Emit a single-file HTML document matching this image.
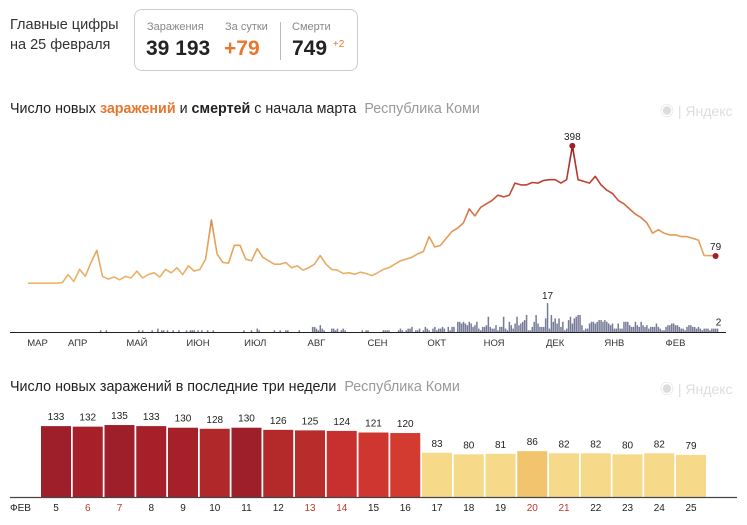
<!DOCTYPE html>
<html><head><meta charset="utf-8"><style>
body{margin:0;background:#fff;font-family:"Liberation Sans","Noto Sans CJK SC",sans-serif;width:747px;height:525px;overflow:hidden;position:relative;color:#222}
.abs{position:absolute}
</style></head><body>
<div class="abs" style="left:10px;top:15px;font-size:14.5px;line-height:20px;color:#333">Главные цифры<br>на 25 февраля</div>
<div class="abs" style="left:134px;top:9px;width:222px;height:60px;border:1px solid #ccc;border-radius:8px">
 <div class="abs" style="left:12px;top:11px;font-size:11px;color:#888">Заражения</div>
 <div class="abs" style="left:11px;top:27px;font-size:21px;font-weight:bold;color:#222">39 193</div>
 <div class="abs" style="left:90px;top:11px;font-size:11px;color:#888">За сутки</div>
 <div class="abs" style="left:89px;top:27px;font-size:21px;font-weight:bold;color:#e8772e">+79</div>
 <div class="abs" style="left:145px;top:12px;width:1px;height:38px;background:#bbb"></div>
 <div class="abs" style="left:157px;top:11px;font-size:11px;color:#888">Смерти</div>
 <div class="abs" style="left:157px;top:27px;font-size:21px;font-weight:bold;color:#222">749 <sup style="font-size:10px;color:#e8772e;font-weight:normal">+2</sup></div>
</div>
<div class="abs" style="left:10px;top:101px;font-size:14.3px;color:#222">Число новых <b style="color:#e8772e">заражений</b> и <b>смертей</b> с начала марта <span style="color:#999">&nbsp;Республика Коми</span></div>
<div class="abs" style="left:660px;top:101px;font-size:14px;color:#ddd">◉ | Яндекс</div>
<div class="abs" style="left:10px;top:379px;font-size:14.3px;color:#222">Число новых заражений в последние три недели <span style="color:#999">&nbsp;Республика Коми</span></div>
<div class="abs" style="left:660px;top:379px;font-size:14px;color:#ddd">◉ | Яндекс</div>
<svg class="abs" style="left:0;top:0" width="747" height="525" id="svg">
<defs><linearGradient id="lg" gradientUnits="userSpaceOnUse" x1="0" y1="283" x2="0" y2="146">
<stop offset="0" stop-color="#ebb56b"/><stop offset="0.38" stop-color="#e39a55"/><stop offset="0.63" stop-color="#c9503a"/><stop offset="1" stop-color="#a01e25"/></linearGradient></defs>
</svg>
<script>
const cases3day=[0,0,0,0,0,0,2,25,5,40,20,60,95,20,12,18,10,20,15,35,15,25,30,18,40,30,45,25,50,35,40,70,183,85,60,58,110,110,70,65,100,75,65,55,55,60,45,50,38,45,55,80,55,40,38,28,30,26,32,28,22,30,40,45,55,65,70,75,85,92,135,105,110,130,150,160,175,215,195,220,230,240,255,250,255,290,285,285,292,290,298,300,300,290,300,398,300,295,290,310,285,270,260,240,230,215,200,190,175,145,155,145,140,140,135,135,130,125,80,80,79];
const deathsMar=Array(31).fill(0);
const deathsApr=[0,0,0,0,0,0,0,1,0,0,1,0,0,0,0,0,0,0,0,0,0,0,0,0,0,0,0,1,0,1];
const deathsMay=[0,0,0,0,1,0,0,2,0,1,1,0,1,0,0,1,0,0,1,0,0,0,1,0,1,1,1,0,1,0,1];
const deathsJun=[0,0,1,0,0,1,0,0,0,0,0,0,0,0,0,0,0,0,0,0,0,1,0,0,0,1,0,0,2,1];
const deathsJul=[0,0,0,0,0,0,0,1,0,0,1,0,0,1,1,0,0,0,0,0,1,0,0,0,0,0,0,3,3,2,1];
const deathsAug=[4,2,1,0,0,0,2,2,1,2,0,1,2,1,0,0,0,0,0,0,0,0,1,0,1,1,0,0,0,0,0];
const deathsSep=[0,0,1,1,1,1,0,0,0,0,1,2,1,0,1,2,2,3,0,1,1,2,0,1,3,2,1,0,2,3];
const deathsOct=[1,2,2,3,2,0,3,1,3,3,0,6,6,5,6,5,4,6,5,3,4,6,2,1,3,3,4,9,3,2,2];
const deathsNov=[4,1,3,3,9,2,1,6,4,2,5,9,4,5,6,7,10,1,1,3,6,10,5,3,3,3,8,17,2,10];
const deathsDec=[6,8,5,8,3,6,1,2,7,9,5,8,9,10,10,4,1,2,2,5,6,6,5,6,7,7,6,7,6,5,4];
const deathsJan=[5,2,2,5,2,2,6,6,6,4,3,3,6,4,3,6,4,3,4,2,3,3,3,5,3,2,1,1,3,4,4];
const deathsFeb=[5,5,4,4,3,2,2,1,3,4,4,3,3,2,3,2,1,2,2,2,1,2,2,2,2];
const monthLabels=["МАР","АПР","МАЙ","ИЮН","ИЮЛ","АВГ","СЕН","ОКТ","НОЯ","ДЕК","ЯНВ","ФЕВ"];
const monthLabelDays=[5,26,57,89,119,151,183,214,244,276,307,339];
const barDays=["5","6","7","8","9","10","11","12","13","14","15","16","17","18","19","20","21","22","23","24","25"];
const barValues=[133,132,135,133,130,128,130,126,125,124,121,120,83,80,81,86,82,82,80,82,79];
const barColors=["#9e1f2a","#a52029","#9e1f2a","#a52029","#a52029","#b02829","#9e1f2a","#b42a2b","#b82c2c","#c83030","#cf362f","#d33a30","#f7d98a","#f7d98a","#f7d98a","#f2c46e","#f7d98a","#f7d98a","#f7d98a","#f7d98a","#f7d98a"];
const redDays=["6","7","13","14","20","21"];

const svg=document.getElementById('svg');const NS='http://www.w3.org/2000/svg';
function mk(t,a){const e=document.createElementNS(NS,t);for(const k in a)e.setAttribute(k,a[k]);svg.appendChild(e);return e;}
const xDay=d=>28+d*1.91;
const yCase=v=>283.2-v*0.345;
const yDeath=v=>332-v*1.7;
const xBar=i=>41+i*31.75;
const yBar=v=>497-v*0.533;

const deaths=[].concat(deathsMar,deathsApr,deathsMay,deathsJun,deathsJul,deathsAug,deathsSep,deathsOct,deathsNov,deathsDec,deathsJan,deathsFeb);
let maxI=0;
deaths.forEach((v,d)=>{if(v>deaths[maxI])maxI=d;if(v<=0)return;
 const r=mk('rect',{x:xDay(d)-0.7,y:yDeath(v),width:1.5,height:332-yDeath(v),fill:'#767b98'});
 
 });
let t=mk('text',{x:xDay(maxI),y:yDeath(deaths[maxI])-4,'font-size':10,'text-anchor':'middle',fill:'#222'});t.textContent=deaths[maxI];


const lastD=deaths.length-1;
t=mk('text',{x:xDay(lastD)+1,y:yDeath(deaths[lastD])-3,'font-size':10,'text-anchor':'middle',fill:'#222'});t.textContent=deaths[lastD];


const ax=mk('line',{x1:10,x2:726,y1:332.5,y2:332.5,stroke:'#222','stroke-width':1});


monthLabels.forEach((m,i)=>{const e=mk('text',{x:xDay(monthLabelDays[i]),y:346,'font-size':9.5,'text-anchor':'middle',fill:'#333'});e.textContent=m;
 
 });

let dstr='';let pk=0;
cases3day.forEach((v,i)=>{dstr+=(i?'L':'M')+xDay(i*3).toFixed(1)+','+yCase(v).toFixed(1);if(v>cases3day[pk])pk=i;});
const ln=mk('path',{d:dstr,fill:'none',stroke:'url(#lg)','stroke-width':1.6,'stroke-linejoin':'round'});


const li=cases3day.length-1;
[[pk,'peak'],[li,'last']].forEach(([i,n])=>{
 const c=mk('circle',{cx:xDay(i*3),cy:yCase(cases3day[i]),r:3,fill:'#a01e25'});
 
 
 const tt=mk('text',{x:xDay(i*3),y:yCase(cases3day[i])-6,'font-size':10,'text-anchor':'middle',fill:'#222'});tt.textContent=cases3day[i];
 
 });

barValues.forEach((v,i)=>{
 const r=mk('rect',{x:xBar(i),y:yBar(v),width:30,height:497-yBar(v),fill:barColors[i]});
 
 
 const tv=mk('text',{x:xBar(i)+15,y:yBar(v)-6,'font-size':10,'text-anchor':'middle',fill:'#222'});tv.textContent=v;
 
 
 const tl=mk('text',{x:xBar(i)+15,y:511,'font-size':10,'text-anchor':'middle',fill:redDays.includes(barDays[i])?'#c0392b':'#222'});tl.textContent=barDays[i];
 
 });
const bx=mk('line',{x1:10,x2:737,y1:497.5,y2:497.5,stroke:'#444','stroke-width':1.2});


t=mk('text',{x:10,y:511,'font-size':10,fill:'#222'});t.textContent='ФЕВ';


</script>
</body></html>
